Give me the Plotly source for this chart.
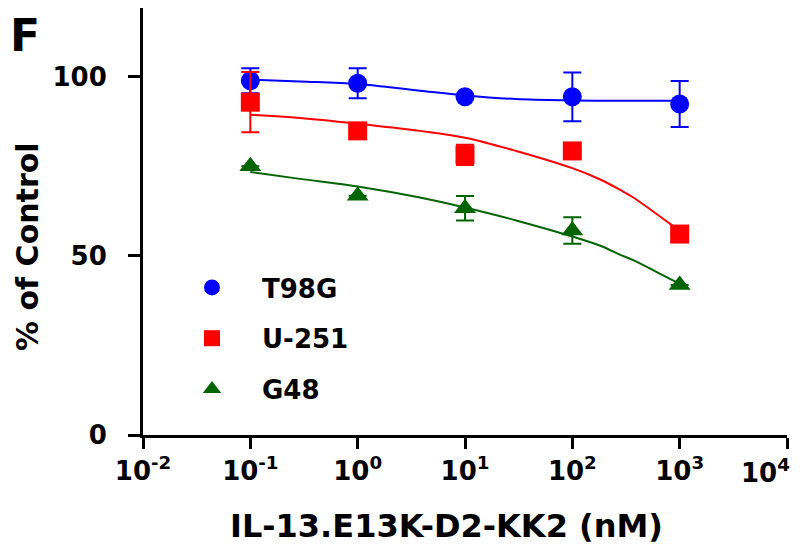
import plotly.graph_objects as go

# doses (nM) and measured % of control
dose = [0.1, 1, 10, 100, 1000]

t98g = [98.9, 98.2, 94.4, 94.4, 92.4]
t98g_err = [3.5, 4.2, 0, 6.8, 6.4]

u251 = [92.9, 84.9, 78.2, 79.3, 56.1]
u251_err = [8.4, 0, 2.8, 0, 0]

g48 = [75.0, 66.8, 63.3, 57.1, 41.9]
g48_err = [0, 0, 3.4, 3.7, 0]

# fitted curves
curve_dose = [0.1, 0.29, 1, 3.8, 10, 30, 100, 180, 280, 370, 810, 1000]
t98g_fit = [99.2, 98.7, 98.0, 96.1, 94.8, 93.8, 93.4, 93.3, 93.3, 93.3, 93.3, 93.3]
u251_fit = [89.4, 88.5, 86.9, 84.9, 83.0, 79.3, 74.5, 71.4, 68.4, 66.3, 59.0, 57.0]
g48_fit = [73.4, 71.5, 69.4, 66.3, 63.5, 59.9, 55.4, 52.9, 50.3, 48.8, 43.6, 42.3]

xticks = [0.01, 0.1, 1, 10, 100, 1000, 10000]
# last label is drawn as an annotation, nudged left so it stays inside the page
xtick_text = ["10<sup>-2</sup>", "10<sup>-1</sup>", "10<sup>0</sup>", "10<sup>1</sup>",
              "10<sup>2</sup>", "10<sup>3</sup>", ""]
last_tick_text = "10<sup>4</sup>"

FONT = "DejaVu Sans, Arial"

series = [
    ("T98G", t98g, t98g_err, t98g_fit, "#0000ff", "circle"),
    ("U-251", u251, u251_err, u251_fit, "#ff0000", "square"),
    ("G48", g48, g48_err, g48_fit, "#006400", "triangle-up"),
]

# page has an 8px body margin, plot box on the page is x 143..787, y 8..435
def px(x):
    return (x - 143) / 644

def py(y):
    return (435 - y) / 427

fig = go.Figure()

for name, vals, err, fit, col, sym in series:
    fig.add_trace(go.Scatter(x=curve_dose, y=fit, mode="lines", line=dict(color=col, width=2, shape="spline"),
                             showlegend=False, hoverinfo="skip"))

for name, vals, err, fit, col, sym in series:
    fig.add_trace(go.Scatter(x=dose, y=vals, mode="markers", name=name, legendgroup=name,
                             marker=dict(color=col, symbol=sym, size=19),
                             error_y=dict(type="data", array=err, visible=True, color=col, thickness=2, width=9)))

fig.update_layout(
    width=800, height=559,
    margin=dict(l=135, r=21, t=0, b=132),
    paper_bgcolor="white", plot_bgcolor="white",
    font=dict(family=FONT, color="black", size=26, weight="bold"),
    legend=dict(x=px(162), y=py(264), xanchor="left", yanchor="top", bgcolor="rgba(0,0,0,0)",
                font=dict(size=26, family=FONT, weight="bold"),
                itemwidth=90, tracegroupgap=14),
    annotations=[
        dict(text="% of Control", x=px(28), y=py(247), xref="paper", yref="paper", showarrow=False,
             xanchor="center", yanchor="middle", textangle=-90,
             font=dict(size=30, family=FONT, weight="bold")),
        dict(text="IL-13.E13K-D2-KK2 (nM)", x=px(446), y=py(526), xref="paper", yref="paper", showarrow=False,
             xanchor="center", yanchor="middle",
             font=dict(size=32, family=FONT, weight="bold")),
        dict(text="F", x=px(8), y=py(8), xref="paper", yref="paper", showarrow=False,
             xanchor="left", yanchor="top",
             font=dict(size=44, family=FONT, weight="bold")),
        dict(text=last_tick_text, x=px(792), y=py(471), xref="paper", yref="paper", showarrow=False,
             xanchor="right", yanchor="middle",
             font=dict(size=26, family=FONT, weight="bold")),
    ],
)

fig.update_xaxes(type="log", range=[-2, 4], tickvals=xticks, ticktext=xtick_text,
                 showline=True, linewidth=3, linecolor="black", ticks="outside", ticklen=11, tickwidth=3,
                 tickcolor="black", showgrid=False, zeroline=False,
                 tickfont=dict(size=26, family=FONT, weight="bold"))
fig.update_yaxes(range=[0, 119.2], tickvals=[0, 50, 100],
                 showline=True, linewidth=3, linecolor="black", ticks="outside", ticklen=12, tickwidth=3,
                 tickcolor="black", showgrid=False, zeroline=False, ticklabelstandoff=16,
                 tickfont=dict(size=26, family=FONT, weight="bold"))

fig.write_html("out.html")
